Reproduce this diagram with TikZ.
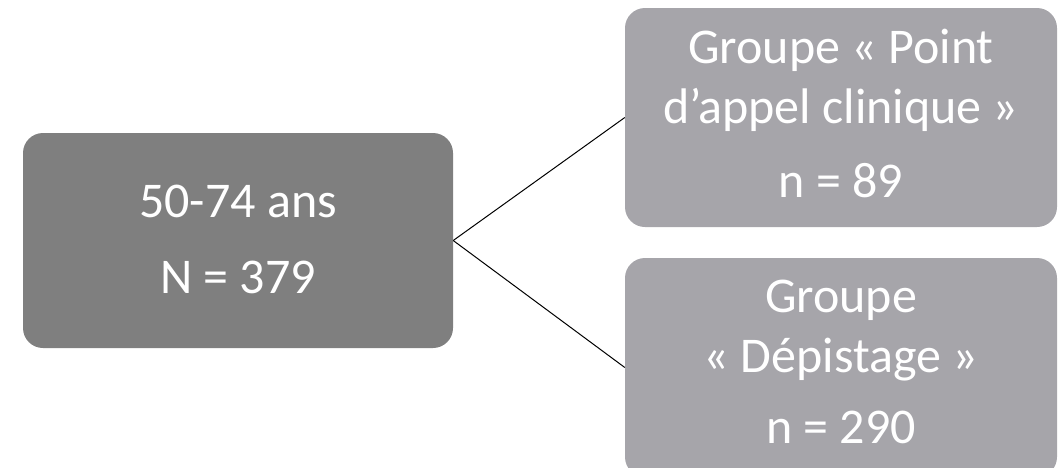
\documentclass[tikz,border=0pt]{standalone}
\usepackage{fontspec}
\setmainfont{Carlito}
\definecolor{darkbox}{RGB}{127,127,127}
\definecolor{lightbox}{RGB}{166,165,170}
\begin{document}
\begin{tikzpicture}[x=1pt,y=-1pt,
  box/.style={rectangle, rounded corners=20pt, draw=none, inner sep=0pt},
  txt/.style={anchor=base, text=white, inner sep=0pt, font=\fontsize{50}{60}\selectfont},
  conn/.style={draw=black, line width=1pt}]
\useasboundingbox (0,0) rectangle (1064,467);
\node[box, fill=darkbox, minimum width=430pt, minimum height=215pt] (L) at (238,240.5) {};
\node[box, fill=lightbox, minimum width=432pt, minimum height=219pt] (T) at (841,117.5) {};
\node[box, fill=lightbox, minimum width=432pt, minimum height=219pt] (B) at (841,367.5) {};
\draw[conn] (L.east) -- (T.west);
\draw[conn] (L.east) -- (B.west);
\node[txt] (l1) at (238,217) {50-74 ans};
\node[txt] (l2) at (238,293) {N = 379};
\node[txt] (t1) at (841,63) {Groupe « Point};
\node[txt] (t2) at (841,123) {d’appel clinique »};
\node[txt] (t3) at (841,197) {n = 89};
\node[txt] (b1) at (841,312) {Groupe};
\node[txt] (b2) at (841,372) {« Dépistage »};
\node[txt] (b3) at (841,443) {n = 290};
\end{tikzpicture}
\end{document}
